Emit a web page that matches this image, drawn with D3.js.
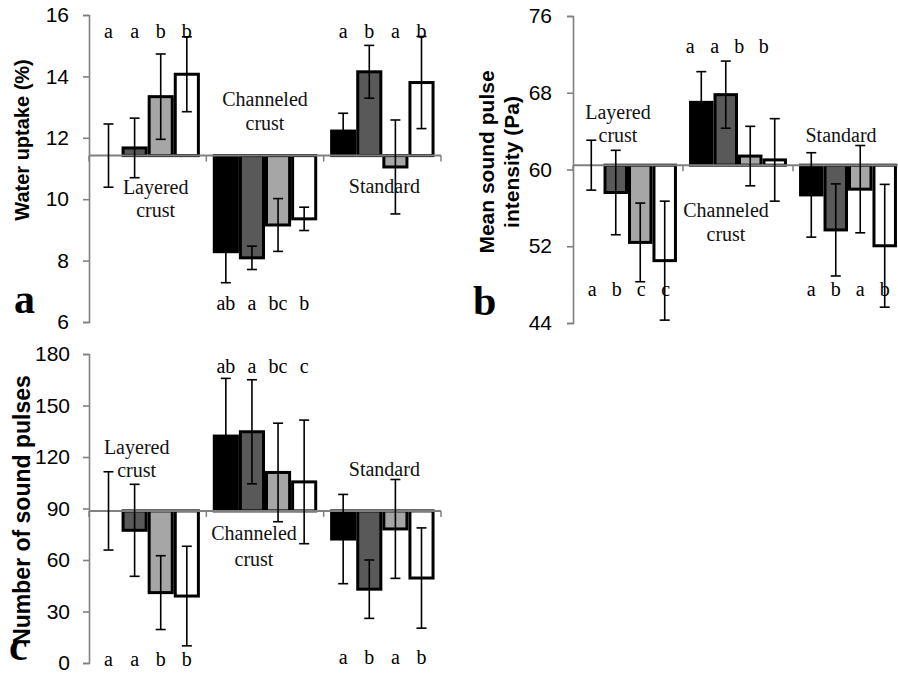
<!DOCTYPE html>
<html>
<head>
<meta charset="utf-8">
<script src="https://cdn.jsdelivr.net/npm/d3@7"></script>
<style>
  html, body { margin: 0; padding: 0; background: #fff; }
  svg { display: block; }
</style>
</head>
<body>
<svg id="chart" width="898" height="674"></svg>
<script>
// Soil treatments grouped by crust type; four treatments per group.
const categories = ["Layered crust", "Channeled crust", "Standard"];
const categoryLines = [["Layered", "crust"], ["Channeled", "crust"], ["Standard"]];

// Water uptake (%)
const uptakeMean = [[11.42, 11.67, 13.34, 14.07], [8.29, 8.09, 9.16, 9.36], [12.22, 14.15, 11.05, 13.8]];
const uptakeErr = [[1.03, 0.97, 1.39, 1.22], [1.01, 0.38, 0.86, 0.38], [0.58, 0.86, 1.53, 1.5]];
const uptakeLetters = [["a", "a", "b", "b"], ["ab", "a", "bc", "b"], ["a", "b", "a", "b"]];
const uptakeTicks = [6, 8, 10, 12, 14, 16];

// Mean sound pulse intensity (Pa)
const intensityMean = [[60.45, 57.6, 52.4, 50.5], [67.0, 67.8, 61.4, 61.0], [57.35, 53.7, 57.95, 52.05]];
const intensityErr = [[2.6, 4.4, 4.1, 6.2], [3.2, 3.5, 3.1, 4.3], [4.4, 4.8, 4.55, 6.4]];
const intensityLetters = [["a", "b", "c", "c"], ["a", "a", "b", "b"], ["a", "b", "a", "b"]];
const intensityTicks = [44, 52, 60, 68, 76];

// Number of sound pulses
const countMean = [[88.6, 77.3, 41, 39], [132.2, 134.7, 111, 105.5], [72.2, 43, 78.1, 49.5]];
const countErr = [[22.8, 26.8, 21.5, 29], [33.6, 30.3, 28.7, 36], [26, 17, 28.8, 29.2]];
const countLetters = [["a", "a", "b", "b"], ["ab", "a", "bc", "c"], ["a", "b", "a", "b"]];
const countTicks = [0, 30, 60, 90, 120, 150, 180];

// Styling
const fills = ["#000000", "#595959", "#a6a6a6", "#ffffff"];
const axisGray = "#808080";
const SANS = "'Liberation Sans', Arial, sans-serif";
const SERIF = "'Liberation Serif', 'Times New Roman', serif";

const panels = [
  {
    tag: "a", means: uptakeMean, errs: uptakeErr, letters: uptakeLetters, ticks: uptakeTicks,
    title: ["Water uptake (%)"], titleSize: 20, titleX: [29], titleY: 140,
    xRange: [89, 441], yRange: [322, 15], tickPad: 14,
    tagX: 14, tagY: 313,
    letterY: [38, 310, 38], letterDx: [0, 0, 0],
    labelDx: [8, 0, 2], labelY: [[194, 217], [106, 130], [193]]
  },
  {
    tag: "b", means: intensityMean, errs: intensityErr, letters: intensityLetters, ticks: intensityTicks,
    title: ["Mean sound pulse", "intensity (Pa)"], titleSize: 21, titleX: [494, 519], titleY: 162,
    xRange: [573, 903], yRange: [323, 16], tickPad: 15,
    tagX: 473, tagY: 315,
    letterY: [296, 53, 296], letterDx: [1, -11, 0],
    labelDx: [-10, -12, -7], labelY: [[119, 142], [217, 241], [142]]
  },
  {
    tag: "c", means: countMean, errs: countErr, letters: countLetters, ticks: countTicks,
    title: ["Number of sound pulses"], titleSize: 23, titleX: [30], titleY: 510,
    xRange: [89, 441], yRange: [663, 354], tickPad: 13,
    tagX: 9, tagY: 660,
    letterY: [666, 373, 664], letterDx: [0, 0, 0],
    labelDx: [-11, -11, 2], labelY: [[454, 477], [540, 566], [476]]
  }
];

const svg = d3.select("#chart");

panels.forEach(p => {
  const g = svg.append("g");
  const ticks = p.ticks;
  const y = d3.scaleLinear().domain([ticks[0], ticks[ticks.length - 1]]).range(p.yRange);
  const x0 = d3.scaleBand().domain(categories).range(p.xRange).paddingInner(0).paddingOuter(0);
  const bw = x0.bandwidth();
  const gap = bw * 0.055;
  const x1 = d3.scaleBand().domain(d3.range(4)).range([gap, bw - gap]).padding(0);
  const base = p.means[0][0];          // bars hang from the control mean
  const yBase = y(base);

  // Bars
  categories.forEach((cat, ci) => {
    const cg = g.append("g").attr("transform", `translate(${x0(cat)},0)`);
    p.means[ci].forEach((v, si) => {
      const top = Math.min(y(v), yBase);
      const h = Math.abs(y(v) - yBase);
      if (h < 0.5) return;
      cg.append("rect")
        .attr("x", x1(si) + 1.5)
        .attr("y", top)
        .attr("width", x1.bandwidth() - 3)
        .attr("height", h)
        .attr("fill", fills[si])
        .attr("stroke", "#000")
        .attr("stroke-width", 3);
    });
  });

  // Category axis through the control mean
  g.append("line")
    .attr("x1", p.xRange[0]).attr("x2", p.xRange[1])
    .attr("y1", yBase).attr("y2", yBase)
    .attr("stroke", axisGray).attr("stroke-width", 2);
  const bounds = categories.map(c => x0(c)).concat([x0(categories[2]) + bw]);
  bounds.forEach(bx => {
    g.append("line")
      .attr("x1", bx).attr("x2", bx)
      .attr("y1", yBase).attr("y2", yBase + 6)
      .attr("stroke", axisGray).attr("stroke-width", 1.5);
  });

  // Error bars
  categories.forEach((cat, ci) => {
    p.means[ci].forEach((v, si) => {
      const cx = x0(cat) + x1(si) + x1.bandwidth() / 2;
      const e = p.errs[ci][si];
      const yHi = y(v + e), yLo = y(v - e);
      const eg = g.append("g").attr("stroke", "#000").attr("stroke-width", 1.6);
      eg.append("line").attr("x1", cx).attr("x2", cx).attr("y1", yHi).attr("y2", yLo);
      eg.append("line").attr("x1", cx - 5).attr("x2", cx + 5).attr("y1", yHi).attr("y2", yHi);
      eg.append("line").attr("x1", cx - 5).attr("x2", cx + 5).attr("y1", yLo).attr("y2", yLo);
    });
  });

  // Value axis
  const ax = g.append("g")
    .attr("transform", `translate(${p.xRange[0]},0)`)
    .call(d3.axisLeft(y).tickValues(ticks).tickSize(6).tickSizeOuter(6).tickPadding(p.tickPad));
  ax.select(".domain").attr("stroke", axisGray).attr("stroke-width", 1.6);
  ax.selectAll(".tick line").attr("stroke", axisGray).attr("stroke-width", 1.6);
  ax.selectAll(".tick text")
    .attr("fill", "#000")
    .style("font-family", SANS)
    .style("font-size", "21px");

  // Significance letters
  categories.forEach((cat, ci) => {
    p.letters[ci].forEach((t, si) => {
      g.append("text")
        .attr("x", x0(cat) + x1(si) + x1.bandwidth() / 2 + p.letterDx[ci])
        .attr("y", p.letterY[ci])
        .attr("text-anchor", "middle")
        .style("font-family", SERIF)
        .style("font-size", "20px")
        .text(t);
    });
  });

  // Category names
  categories.forEach((cat, ci) => {
    categoryLines[ci].forEach((line, li) => {
      g.append("text")
        .attr("x", x0(cat) + bw / 2 + p.labelDx[ci])
        .attr("y", p.labelY[ci][li])
        .attr("text-anchor", "middle")
        .style("font-family", SERIF)
        .style("font-size", "20px")
        .attr("fill", "#111")
        .text(line);
    });
  });

  // Axis title
  p.title.forEach((t, i) => {
    g.append("text")
      .attr("transform", `translate(${p.titleX[i]},${p.titleY}) rotate(-90)`)
      .attr("text-anchor", "middle")
      .style("font-family", SANS)
      .style("font-weight", "bold")
      .style("font-size", p.titleSize + "px")
      .text(t);
  });

  // Panel tag
  g.append("text")
    .attr("x", p.tagX).attr("y", p.tagY)
    .style("font-family", SERIF)
    .style("font-weight", "bold")
    .style("font-size", "42px")
    .text(p.tag);
});
</script>
</body>
</html>
